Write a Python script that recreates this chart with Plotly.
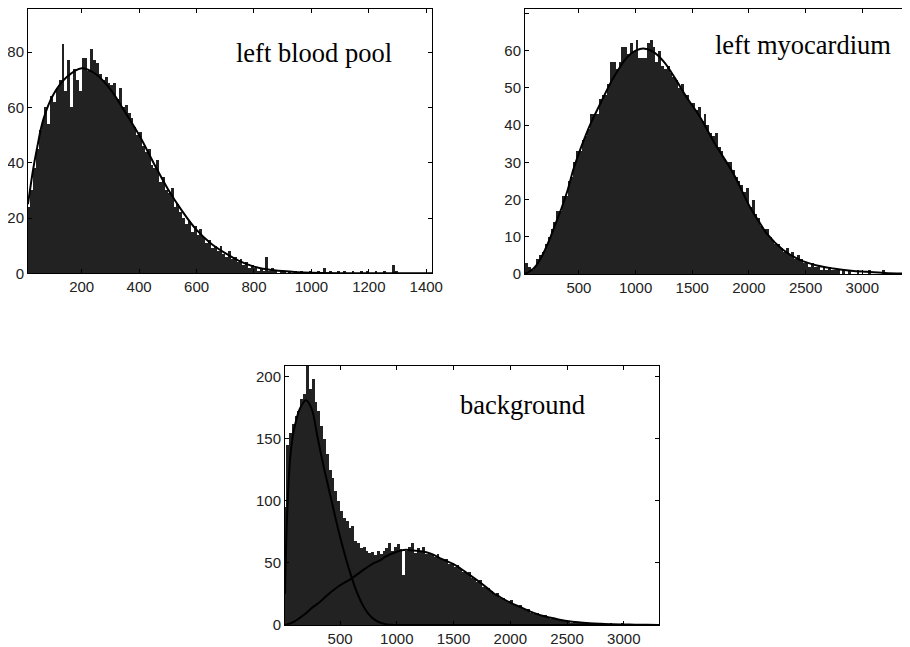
import plotly.graph_objects as go

# ---- left blood pool histogram (bin width 10, starting at 0) ----
lbp_bin_start = 0
lbp_bin_width = 10
lbp_counts = [20, 24, 30, 38, 45, 52, 55, 60, 54, 64,
              62, 67, 70, 83, 66, 77, 60, 74, 70, 66,
              78, 78, 73, 81, 77, 76, 72, 70, 71, 69,
              68, 69, 63, 67, 60, 61, 58, 56, 53, 50,
              51, 46, 44, 45, 39, 38, 41, 33, 35, 30,
              29, 31, 24, 25, 22, 20, 18, 19, 15, 17,
              14, 16, 13, 11, 12, 9, 10, 8, 10, 7,
              6, 8, 5, 6, 4, 5, 3, 4, 2, 3,
              2, 1, 2, 1, 6, 1, 2, 1, 0, 1,
              1, 0, 1, 0, 1, 0, 1, 0, 0, 1,
              0, 0, 1, 0, 2, 0, 1, 0, 0, 1,
              0, 1, 0, 0, 1, 0, 0, 1, 0, 1,
              0, 0, 1, 0, 0, 1, 0, 0, 3, 1,
              0, 0]
lbp_fit_x = [13, 30, 44, 66, 101, 148, 200, 250, 300, 350, 400, 450, 500, 550,
             600, 650, 700, 750, 800, 850, 900, 950, 1000, 1100, 1200, 1420]
lbp_fit_y = [25, 37, 45, 55.5, 64.6, 71, 74.2, 72, 66.5, 58.5, 50, 40, 30.5, 22.5,
             15.7, 10.8, 7.3, 4.4, 2.4, 1.4, 0.8, 0.4, 0.2, 0.05, 0, 0]

# ---- left myocardium histogram (bin width 25) ----
lmy_bin_start = 0
lmy_bin_width = 25
lmy_counts = [3, 3, 2, 1, 2, 4, 5, 6, 8, 10,
              12, 14, 17, 17, 21, 21, 25, 26, 30, 33,
              33, 36, 37, 39, 43, 43, 43, 47, 48, 48,
              51, 57, 57, 55, 57, 61, 61, 59, 62, 60,
              63, 58, 58, 58, 62, 63, 61, 57, 60, 56,
              55, 56, 54, 53, 52, 50, 51, 48, 48, 46,
              46, 44, 45, 41, 43, 40, 38, 37, 38, 34,
              33, 31, 30, 30, 28, 26, 25, 24, 22, 23,
              18, 20, 16, 15, 13, 12, 12, 10, 9, 8,
              8, 7, 6, 7, 5, 6, 4, 5, 4, 3,
              3, 2, 3, 2, 2, 1, 2, 1, 2, 1,
              1, 1, 0, 1, 0, 1, 0, 0, 1, 0,
              0, 0, 1, 0, 0, 0, 0, 1, 0, 0,
              0, 0, 0, 0, 1, 0, 0]
lmy_fit_x = [24, 100, 150, 200, 250, 300, 350, 400, 450, 500, 550, 600, 700, 800,
             850, 900, 950, 1000, 1068, 1150, 1250, 1350, 1450, 1568, 1700, 1862,
             2009, 2100, 2156, 2300, 2450, 2600, 2744, 2900, 3038, 3200, 3421]
lmy_fit_y = [0, 1.5, 3.5, 6.5, 10, 14, 18, 22.5, 28, 32.5, 36.5, 40.2, 46.5, 52.5,
             55, 57.3, 59, 60, 60.6, 59.8, 57, 52.5, 47.5, 42.2, 35, 27,
             18, 13.5, 10.9, 6.5, 3.8, 2.3, 1.5, 0.9, 0.6, 0.3, 0.1]

# ---- background histogram (bin width 25) ----
bg_bin_start = 0
bg_bin_width = 25
bg_counts = [95, 145, 155, 162, 168, 172, 182, 186, 212, 190,
             198, 180, 172, 160, 150, 138, 125, 118, 108, 100,
             92, 86, 84, 78, 80, 68, 66, 62, 63, 60,
             58, 59, 56, 60, 57, 60, 62, 66, 60, 63,
             65, 61, 40, 60, 63, 66, 58, 62, 59, 63,
             57, 58, 56, 55, 57, 53, 52, 53, 49, 50,
             47, 48, 45, 43, 42, 43, 38, 37, 35, 36,
             31, 30, 30, 27, 25, 26, 22, 22, 20, 19,
             20, 16, 15, 16, 13, 12, 13, 10, 9, 10,
             8, 7, 8, 6, 5, 6, 4, 5, 3, 4,
             3, 2, 3, 2, 1, 2, 1, 1, 1, 0,
             1, 0, 1, 0, 0, 1, 0, 0, 0, 1,
             0, 0, 0, 0, 0, 0, 0, 0, 0, 0,
             0, 0, 0]
bg_low_x = [15, 22, 30, 40, 59, 80, 103, 147, 200, 250, 300, 350, 400, 450, 500,
            550, 600, 650, 700, 750, 800, 850, 900, 950, 1000, 1100, 3310]
bg_low_y = [25, 55, 80, 102, 133, 150, 161, 174.5, 181, 174, 152, 130, 110, 90, 71,
            54, 39, 26, 16, 9, 4.5, 2, 0.7, 0.2, 0, 0, 0]
bg_high_x = [15, 100, 200, 265, 300, 400, 500, 603, 700, 800, 853, 900, 1000, 1060,
             1100, 1200, 1294, 1400, 1500, 1600, 1700, 1800, 1853, 1900, 2000, 2100,
             2200, 2300, 2400, 2500, 2600, 2700, 2800, 2900, 3000, 3100, 3200, 3310]
bg_high_y = [0, 3, 9.5, 14.8, 17, 25, 32, 37.6, 44, 50, 52, 55, 59, 60.4,
             60.5, 59.5, 57.7, 53, 49, 43, 36.5, 29.5, 25.5, 23, 18, 14,
             10, 7, 5, 3.3, 2.2, 1.5, 1, 0.6, 0.4, 0.25, 0.15, 0.1]

# the page body has an 8px margin; the figure runs to the window's right/bottom edge
W, H = 902, 639
OFF = 8
BAR = "#222222"


def centers(start, width, n):
    return [start + width * (i + 0.5) for i in range(n)]


def px_x(p):
    return min(max((p - OFF) / W, 0), 1)


def px_y(p):
    return min(max(1 - (p - OFF) / H, 0), 1)


fig = go.Figure()

fig.add_trace(go.Bar(x=centers(lbp_bin_start, lbp_bin_width, len(lbp_counts)), y=lbp_counts,
                     width=lbp_bin_width, marker_color=BAR, marker_line_width=0,
                     xaxis="x", yaxis="y"))
fig.add_trace(go.Scatter(x=lbp_fit_x, y=lbp_fit_y, mode="lines", line_shape="spline",
                         line=dict(color="black", width=2), xaxis="x", yaxis="y"))

fig.add_trace(go.Bar(x=centers(lmy_bin_start, lmy_bin_width, len(lmy_counts)), y=lmy_counts,
                     width=lmy_bin_width, marker_color=BAR, marker_line_width=0,
                     xaxis="x2", yaxis="y2"))
fig.add_trace(go.Scatter(x=lmy_fit_x, y=lmy_fit_y, mode="lines", line_shape="spline",
                         line=dict(color="black", width=2), xaxis="x2", yaxis="y2"))

fig.add_trace(go.Bar(x=centers(bg_bin_start, bg_bin_width, len(bg_counts)), y=bg_counts,
                     width=bg_bin_width, marker_color=BAR, marker_line_width=0,
                     xaxis="x3", yaxis="y3"))
fig.add_trace(go.Scatter(x=bg_low_x, y=bg_low_y, mode="lines", line_shape="spline",
                         line=dict(color="black", width=2), xaxis="x3", yaxis="y3"))
fig.add_trace(go.Scatter(x=bg_high_x, y=bg_high_y, mode="lines", line_shape="spline",
                         line=dict(color="black", width=2), xaxis="x3", yaxis="y3"))

axis_style = dict(showline=True, linecolor="black", linewidth=1, mirror="ticks",
                  ticks="inside", ticklen=4, tickcolor="black", showgrid=False,
                  zeroline=False, automargin=False,
                  tickfont=dict(family="Liberation Sans, Arial", size=15, color="#222"))

fig.update_layout(
    width=W, height=H,
    margin=dict(l=0, r=0, t=0, b=0),
    paper_bgcolor="white", plot_bgcolor="white",
    showlegend=False, bargap=0,
    xaxis=dict(domain=[px_x(28), px_x(432)], range=[13, 1420],
               tickvals=[200, 400, 600, 800, 1000, 1200, 1400], anchor="y", **axis_style),
    yaxis=dict(domain=[px_y(273.3), px_y(9)], range=[0, 95.6],
               tickvals=[0, 20, 40, 60, 80], anchor="x", **axis_style),
    xaxis2=dict(domain=[px_x(525), 1.0], range=[24, 3421],
                tickvals=[500, 1000, 1500, 2000, 2500, 3000], anchor="y2", **axis_style),
    yaxis2=dict(domain=[px_y(274), px_y(9)], range=[0, 71.2],
                tickvals=[0, 10, 20, 30, 40, 50, 60, 70], anchor="x2",
                **{**axis_style, "mirror": False}),
    xaxis3=dict(domain=[px_x(285), px_x(659)], range=[15, 3310],
                tickvals=[500, 1000, 1500, 2000, 2500, 3000], anchor="y3", **axis_style),
    yaxis3=dict(domain=[px_y(625), px_y(366)], range=[0, 208.6],
                tickvals=[0, 50, 100, 150, 200], anchor="x3", **axis_style),
)

label_font = dict(family="Liberation Serif, Times New Roman", size=26.5, color="black")
for txt, cx, cy in [("left blood pool", 313.5, 53),
                    ("left myocardium", 803, 45),
                    ("background", 522, 405)]:
    fig.add_annotation(text=txt, x=px_x(cx), y=px_y(cy), xref="paper", yref="paper",
                       xanchor="center", yanchor="middle", showarrow=False, font=label_font)

fig.write_html("out.html")
